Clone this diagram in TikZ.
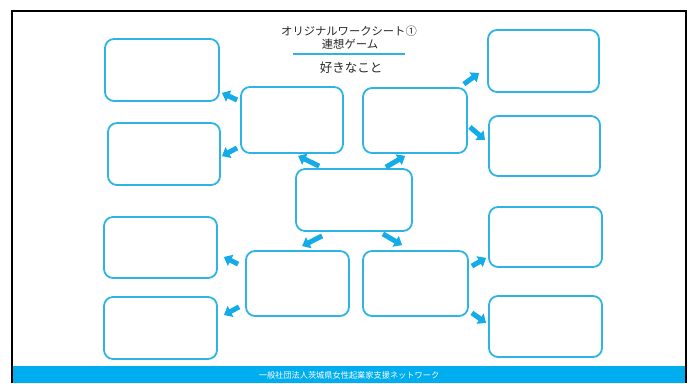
\documentclass[tikz,border=0pt]{standalone}
\usepackage{fontspec}
\setmainfont{Noto Sans CJK JP}
\usetikzlibrary{arrows.meta}
\definecolor{sheetblue}{RGB}{45,180,228}
\definecolor{arrowblue}{RGB}{20,172,232}
\definecolor{barblue}{RGB}{0,174,239}
\definecolor{textgray}{RGB}{40,40,40}

\begin{document}
\begin{tikzpicture}[
  x=1pt, y=-1pt,
  box/.style={draw=sheetblue, line width=1.8pt, rounded corners=9pt, fill=white, inner sep=0pt},
  arr/.style={draw=arrowblue, line width=5pt, -{Triangle[length=7.5pt,width=12pt]}}
]
\useasboundingbox[fill=white] (0,0) rectangle (693,383);
% frame and footer band
\fill[barblue] (12,366) rectangle (686,383);
\draw[line width=2.6pt] (12,383) -- (12,11) -- (686,11) -- (686,383);
\node[text=white, font=\fontsize{8.2}{9}\selectfont] (footer) at (349,375.5) {一般社団法人茨城県女性起業家支援ネットワーク};

% title
\node[text=textgray, font=\fontsize{11.3}{12}\selectfont] (title) at (349,31) {オリジナルワークシート①};
\node[text=textgray, font=\fontsize{11.3}{12}\selectfont] (sub) at (350,44) {連想ゲーム};
\draw[sheetblue, line width=1.5pt] (293,54) -- (405,54);
\node[text=textgray, font=\fontsize{12.5}{14}\selectfont] (theme) at (351,68) {好きなこと};

% center and inner boxes
\node[box, minimum width=116pt, minimum height=62pt] (c) at (354,200) {};
\node[box, minimum width=102pt, minimum height=66pt] (a) at (292,120) {};
\node[box, minimum width=104pt, minimum height=65pt] (b) at (415,120.5) {};
\node[box, minimum width=103pt, minimum height=65pt] (d) at (297.5,283.5) {};
\node[box, minimum width=105pt, minimum height=65pt] (e) at (415.5,283.5) {};

% outer boxes, left
\node[box, minimum width=114pt, minimum height=62pt] (o1) at (162,70) {};
\node[box, minimum width=112pt, minimum height=62pt] (o2) at (164,154) {};
\node[box, minimum width=113pt, minimum height=61pt] (o3) at (160.5,247.5) {};
\node[box, minimum width=113pt, minimum height=62pt] (o4) at (160.5,328) {};
% outer boxes, right
\node[box, minimum width=111pt, minimum height=62pt] (r1) at (543.5,61) {};
\node[box, minimum width=111pt, minimum height=60pt] (r2) at (544.5,146) {};
\node[box, minimum width=113pt, minimum height=60pt] (r3) at (545.5,237) {};
\node[box, minimum width=113pt, minimum height=61pt] (r4) at (545.5,326.5) {};

% arrows
\draw[arr] ([shift={(24,-2)}]c.north west) -- ([shift={(58,2)}]a.south west);
\draw[arr] ([shift={(-27,-1)}]c.north east) -- ([shift={(43,2)}]b.south west);
\draw[arr] ([shift={(27,4)}]c.south west) -- ([shift={(57,-4)}]d.north west);
\draw[arr] ([shift={(-30,2)}]c.south east) -- ([shift={(40,-5)}]e.north west);
\draw[arr] ([shift={(-3,-20)}]a.west) -- ([shift={(2,-9)}]o1.south east);
\draw[arr] ([shift={(-3,-6)}]a.south west) -- ([shift={(1,34)}]o2.north east);
\draw[arr] ([shift={(-4,-3)}]b.north east) -- ([shift={(-8,12)}]r1.west);
\draw[arr] ([shift={(2,6.5)}]b.east) -- ([shift={(-3,-6)}]r2.west);
\draw[arr] ([shift={(-7,14)}]d.north west) -- ([shift={(6,9.5)}]o3.east);
\draw[arr] ([shift={(-6,-10)}]d.south west) -- ([shift={(6,-13)}]o4.east);
\draw[arr] ([shift={(3,16)}]e.north east) -- ([shift={(-2,-10)}]r3.south west);
\draw[arr] ([shift={(3,-4)}]e.south east) -- ([shift={(-2,-3.5)}]r4.west);
\end{tikzpicture}
\end{document}
